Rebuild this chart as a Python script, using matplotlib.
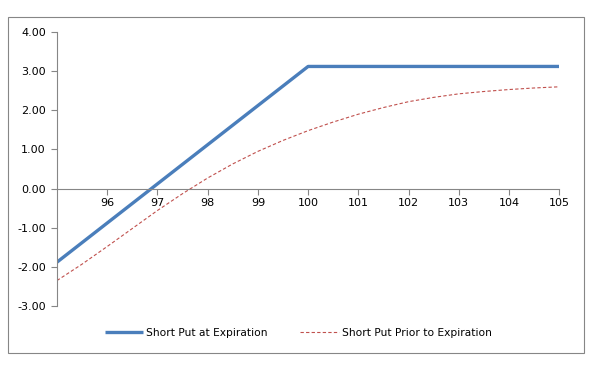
import matplotlib.pyplot as plt
from matplotlib.patches import Rectangle
from matplotlib.ticker import FormatStrFormatter

# Underlying price
prices = [95.0, 95.5, 96.0, 96.5, 97.0, 97.5, 98.0, 98.5, 99.0, 99.5, 100.0,
          100.5, 101.0, 101.5, 102.0, 102.5, 103.0, 103.5, 104.0, 104.5, 105.0]

# P&L of the short put at expiration
at_expiration = [-1.88, -1.38, -0.88, -0.38, 0.12, 0.62, 1.12, 1.62, 2.12, 2.62, 3.12,
                 3.12, 3.12, 3.12, 3.12, 3.12, 3.12, 3.12, 3.12, 3.12, 3.12]

# P&L prior to expiration
prior_expiration = [-2.35, -1.93, -1.48, -1.02, -0.56, -0.13, 0.27, 0.63, 0.95, 1.23, 1.48,
                    1.70, 1.90, 2.07, 2.22, 2.33, 2.42, 2.48, 2.53, 2.57, 2.60]

x_ticks = [96, 97, 98, 99, 100, 101, 102, 103, 104, 105]
y_ticks = [-3, -2, -1, 0, 1, 2, 3, 4]

plt.rcParams['font.family'] = ['DejaVu Sans']

fig = plt.figure(figsize=(6, 3.7), dpi=100)
ax = fig.add_axes([0.095, 0.173, 0.837, 0.7405])

ax.plot(prices, at_expiration, color='#4A7EBB', linewidth=2.4,
        label='Short Put at Expiration', solid_capstyle='butt')
ax.plot(prices, prior_expiration, color='#C0504D', linewidth=0.8,
        linestyle=(0, (3, 2)), label='Short Put Prior to Expiration')

ax.set_xlim(95, 105)
ax.set_ylim(-3, 4)
ax.set_xticks(x_ticks)
ax.set_yticks(y_ticks)
ax.yaxis.set_major_formatter(FormatStrFormatter('%.2f'))

# Excel-like axes: x axis crossing at zero
for side in ['top', 'right']:
    ax.spines[side].set_visible(False)
ax.spines['bottom'].set_position(('data', 0))
ax.spines['bottom'].set_color('#868686')
ax.spines['left'].set_color('#868686')
ax.spines['bottom'].set_linewidth(0.8)
ax.spines['left'].set_linewidth(0.8)
ax.tick_params(axis='both', colors='#868686', labelcolor='black',
               labelsize=8, length=4, width=0.8)
ax.tick_params(axis='x', direction='out', pad=3)
ax.tick_params(axis='y', direction='out', pad=4)

fig.legend(loc='center', bbox_to_anchor=(0.497, 0.1), ncol=2, frameon=False,
           fontsize=7.7, handlelength=3.6, columnspacing=3.0, handletextpad=0.3)

# outer chart border
fig.patches.append(Rectangle((8 / 600, 1 - 353 / 370), 576 / 600, 336 / 370,
                             transform=fig.transFigure, fill=False,
                             edgecolor='#868686', linewidth=0.8))

fig.savefig('out.png', dpi=100)
